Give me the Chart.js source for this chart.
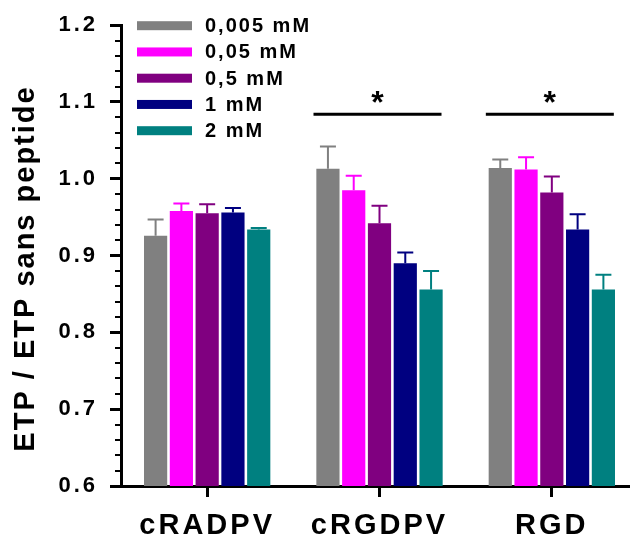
<!DOCTYPE html>
<html>
<head>
<meta charset="utf-8">
<script src="https://cdn.jsdelivr.net/npm/chart.js@4.4.0/dist/chart.umd.min.js"></script>
<style>
    html, body { margin: 0; padding: 0; overflow: hidden; background: #fff; }
    canvas { display: block; }
</style>
</head>
<body>
<canvas id="etpChart" width="640" height="539"></canvas>
<script>
// Peptides (x categories) and doses (series)
const peptides = ['cRADPV', 'cRGDPV', 'RGD'];
const doseLabels = ['0,005 mM', '0,05 mM', '0,5 mM', '1 mM', '2 mM'];
const doseColors = ['#808080', '#FF00FF', '#800080', '#000080', '#008080'];

// Mean ETP ratio per dose, one value per peptide
const dose0005 = [0.926, 1.013, 1.014];
const dose005 = [0.958, 0.985, 1.012];
const dose05 = [0.955, 0.942, 0.982];
const dose1 = [0.956, 0.890, 0.934];
const dose2 = [0.934, 0.856, 0.856];

// Upper error (SEM) per dose
const err0005 = [0.021, 0.029, 0.011];
const err005 = [0.010, 0.019, 0.016];
const err05 = [0.012, 0.023, 0.021];
const err1 = [0.006, 0.014, 0.020];
const err2 = [0.002, 0.024, 0.019];

// Y axis tick labels
const yTicks = [0.6, 0.7, 0.8, 0.9, 1.0, 1.1, 1.2];

// Significance bars (*) over these peptides
const sigPeptides = ['cRGDPV', 'RGD'];
const sigLevel = 1.084;

const yTitle = 'ETP / ETP sans peptide';
const fontFamily = '"Liberation Sans", Arial, sans-serif';

const seriesValues = [dose0005, dose005, dose05, dose1, dose2];
const seriesErrors = [err0005, err005, err05, err1, err2];

// Draws error bars, significance marks, minor ticks, legend and y title
const etpExtras = {
    id: 'etpExtras',
    beforeDraw(chart) {
        chart.ctx.letterSpacing = '3px'; // spaced axis labels
    },
    beforeDatasetsDraw(chart) {
        chart.ctx.letterSpacing = '0px';
    },
    afterDatasetsDraw(chart) {
        const ctx = chart.ctx;
        const yScale = chart.scales.y;

        // error bars (upper only, with cap)
        chart.data.datasets.forEach((ds, di) => {
            const meta = chart.getDatasetMeta(di);
            meta.data.forEach((bar, i) => {
                const top = yScale.getPixelForValue(ds.data[i] + ds.errors[i]);
                ctx.save();
                ctx.strokeStyle = ds.backgroundColor;
                ctx.lineWidth = 2;
                ctx.beginPath();
                ctx.moveTo(bar.x, bar.y);
                ctx.lineTo(bar.x, top);
                ctx.moveTo(bar.x - 8, top);
                ctx.lineTo(bar.x + 8, top);
                ctx.stroke();
                ctx.restore();
            });
        });
    },
    afterDraw(chart) {
        const ctx = chart.ctx;
        const xScale = chart.scales.x;
        const yScale = chart.scales.y;
        const area = chart.chartArea;

        ctx.save();
        ctx.letterSpacing = '0px';
        ctx.fillStyle = '#000';
        ctx.strokeStyle = '#000';

        // minor ticks on y axis
        ctx.lineWidth = 2;
        ctx.beginPath();
        for (let i = 0; i < yTicks.length - 1; i++) {
            const step = (yTicks[i + 1] - yTicks[i]) / 5;
            for (let k = 1; k < 5; k++) {
                const py = Math.round(yScale.getPixelForValue(yTicks[i] + k * step));
                ctx.moveTo(area.left - 6, py);
                ctx.lineTo(area.left, py);
            }
        }
        ctx.stroke();

        // significance lines and stars
        const lineY = yScale.getPixelForValue(sigLevel);
        sigPeptides.forEach(name => {
            const cx = xScale.getPixelForValue(peptides.indexOf(name)) - 2;
            ctx.lineWidth = 3;
            ctx.beginPath();
            ctx.moveTo(cx - 64, lineY);
            ctx.lineTo(cx + 64, lineY);
            ctx.stroke();
            ctx.font = 'bold 32px ' + fontFamily;
            ctx.textAlign = 'center';
            ctx.textBaseline = 'alphabetic';
            ctx.fillText('*', cx, lineY - 1);
        });

        // legend, top left inside the plot
        ctx.letterSpacing = '2px';
        ctx.font = 'bold 20px ' + fontFamily;
        ctx.textAlign = 'left';
        ctx.textBaseline = 'middle';
        chart.data.datasets.forEach((ds, i) => {
            const rowY = area.top + 0.5 + i * 26.25;
            ctx.fillStyle = ds.backgroundColor;
            ctx.fillRect(area.left + 16, rowY - 4.5, 55, 9);
            ctx.fillStyle = '#000';
            ctx.fillText(ds.label, area.left + 84, rowY + 1);
        });

        // y axis title
        ctx.letterSpacing = '2px';
        ctx.font = 'bold 29px ' + fontFamily;
        ctx.textAlign = 'center';
        ctx.textBaseline = 'alphabetic';
        ctx.translate(33.5, 268.5);
        ctx.rotate(-Math.PI / 2);
        ctx.fillText(yTitle, 0, 0);
        ctx.restore();
    }
};

const ctx = document.getElementById('etpChart').getContext('2d');

const config = {
    type: 'bar',
    data: {
        labels: peptides,
        datasets: doseLabels.map((label, i) => ({
            label: label,
            data: seriesValues[i],
            errors: seriesErrors[i],
            backgroundColor: doseColors[i],
            borderWidth: 0,
            barPercentage: 0.9,
            categoryPercentage: 0.748
        }))
    },
    options: {
        responsive: false,
        maintainAspectRatio: false,
        animation: false,
        devicePixelRatio: 1,
        layout: {
            padding: { top: 24, right: 2, left: 0, bottom: 0 }
        },
        scales: {
            x: {
                grid: {
                    drawOnChartArea: false,
                    offset: false,
                    tickLength: 11,
                    tickWidth: 3,
                    tickColor: '#000'
                },
                border: { color: '#000', width: 3 },
                ticks: {
                    color: '#000',
                    padding: 12,
                    font: { family: fontFamily, size: 29, weight: 'bold' }
                },
                afterFit(scale) { scale.height = 53; }
            },
            y: {
                min: 0.6,
                max: 1.2,
                afterBuildTicks(scale) {
                    scale.ticks = yTicks.map(v => ({ value: v }));
                },
                grid: {
                    drawOnChartArea: false,
                    tickLength: 11,
                    tickWidth: 3,
                    tickColor: '#000'
                },
                border: { color: '#000', width: 3 },
                ticks: {
                    color: '#000',
                    padding: 12,
                    font: { family: fontFamily, size: 22, weight: 'bold' },
                    callback: v => v.toFixed(1)
                },
                afterFit(scale) { scale.width = 121; }
            }
        },
        plugins: {
            legend: { display: false },
            tooltip: { enabled: false }
        }
    },
    plugins: [etpExtras]
};

const etpChart = new Chart(ctx, config);
</script>
</body>
</html>
